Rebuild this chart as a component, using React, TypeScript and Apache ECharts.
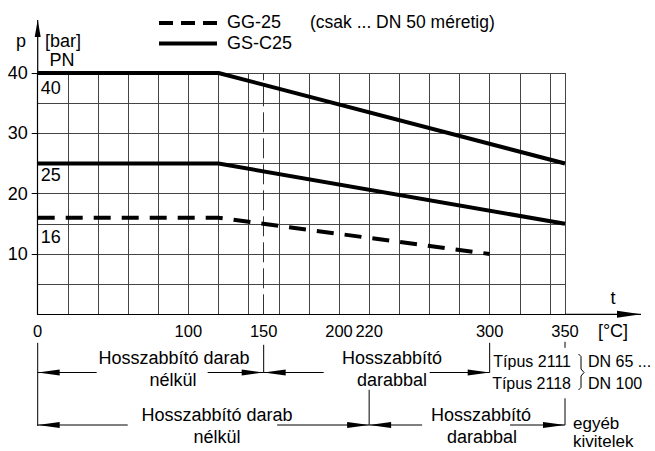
import React, { useEffect, useRef } from 'react';
import * as echarts from 'echarts';

const FONT = '"Liberation Sans", Arial, sans-serif';

// ---- data ----
const xLabelValues = [0, 100, 150, 200, 220, 300, 350];
const yLabelValues = [10, 20, 30, 40];
const gsc25PN40 = [[0, 40], [120, 40], [350, 25]];
const gsc25PN25 = [[0, 25], [120, 25], [350, 15]];
const gg25PN16 = [[0, 16], [120, 16], [300, 10]];
const pnLabels = ['40', '25', '16'];
const pnValues = [40, 25, 16];
const legendNames = ['GG-25', 'GS-C25'];
const legendNote = '(csak ... DN 50 méretig)';
const dashedTemp = 150;
const boundaryTemps = [0, 150, 220, 300, 350];
const rangeTexts = {
  noExt: ['Hosszabbító darab', 'nélkül'],
  withExt: ['Hosszabbító', 'darabbal'],
  types: ['Típus 2111', 'Típus 2118'],
  dn: ['DN 65 ...', 'DN 100'],
  other: ['egyéb', 'kivitelek'],
};

export default function App() {
  const ref = useRef<HTMLDivElement>(null);

  useEffect(() => {
    if (!ref.current) return;
    const chart = echarts.init(ref.current, undefined, { renderer: 'svg' });

    const option: any = {
      animation: false,
      backgroundColor: '#fff',
      grid: { left: 37.7, right: 90, top: 73, bottom: 136.7, containLabel: false },
      xAxis: {
        type: 'value',
        min: 0,
        max: 350,
        interval: 20,
        axisLine: { show: true, onZero: false, lineStyle: { color: '#000', width: 1.2 } },
        axisTick: { show: false },
        axisLabel: { customValues: xLabelValues, margin: 8, fontSize: 16.5, color: '#000', fontFamily: FONT },
        splitLine: { show: true, lineStyle: { color: '#444', width: 1 } },
      },
      yAxis: [
        {
          type: 'value',
          min: 0,
          max: 40,
          interval: 5,
          position: 'left',
          axisLine: { show: true, onZero: false, lineStyle: { color: '#000', width: 1.2 } },
          axisTick: { show: false },
          axisLabel: { show: false },
          splitLine: { show: true, lineStyle: { color: '#444', width: 1 } },
        },
        {
          type: 'value',
          min: 0,
          max: 40,
          interval: 10,
          position: 'left',
          axisLine: { show: false },
          axisTick: { show: true, customValues: yLabelValues, length: 6, lineStyle: { color: '#000', width: 1 } },
          axisLabel: { customValues: yLabelValues, margin: 10, fontSize: 18, color: '#000', fontFamily: FONT },
          splitLine: { show: false },
        },
      ],
      series: [
        {
          name: legendNames[1], type: 'line', data: gsc25PN40, symbol: 'none', silent: true,
          lineStyle: { color: '#000', width: 4 }, z: 5,
        },
        {
          name: legendNames[1], type: 'line', data: gsc25PN25, symbol: 'none', silent: true,
          lineStyle: { color: '#000', width: 4 }, z: 5,
        },
        {
          name: legendNames[0], type: 'line', data: gg25PN16, symbol: 'none', silent: true,
          lineStyle: { color: '#000', width: 4, type: [17, 11] }, z: 5,
          markLine: {
            silent: true,
            symbol: ['none', 'none'],
            label: { show: false },
            lineStyle: { color: '#333', width: 1, type: [20, 6] },
            data: [{ xAxis: dashedTemp }],
          },
        },
      ],
    };
    chart.setOption(option);

    const X = (v: number) => chart.convertToPixel({ xAxisIndex: 0 }, v) as number;
    const Y = (v: number) => chart.convertToPixel({ yAxisIndex: 0 }, v) as number;

    const [t0, t150, t220, t300, t350] = boundaryTemps.map(X);
    const yTop = Y(40);
    const yBot = Y(0);

    const g: any[] = [];
    const line = (x1: number, y1: number, x2: number, y2: number, w = 1, dash?: number[]) =>
      g.push({
        type: 'line', silent: true, z: 100,
        shape: { x1, y1, x2, y2 },
        style: { stroke: '#000', lineWidth: w, lineDash: dash },
      });
    const headH = (tip: number, y: number, dir: number, len = 22, half = 3) =>
      g.push({
        type: 'polygon', silent: true, z: 100,
        shape: { points: [[tip, y], [tip - dir * len, y - half], [tip - dir * len, y + half]] },
        style: { fill: '#000' },
      });
    const arrow = (from: number, to: number, y: number) => {
      line(from, y, to, y, 1);
      headH(to, y, to > from ? 1 : -1);
    };
    const text = (x: number, y: number, s: string, align = 'center', size = 18) =>
      g.push({
        type: 'text', silent: true, z: 100, x, y,
        style: { text: s, align, verticalAlign: 'middle', fontSize: size, fontFamily: FONT, fill: '#000' },
      });

    // axis extensions with arrows
    line(t350, yBot, 641, yBot, 1.2);
    headH(641, yBot, 1, 24, 3.5);
    line(t0, yTop, t0, 20, 1.2);
    g.push({
      type: 'polygon', silent: true, z: 100,
      shape: { points: [[t0, 20], [t0 - 3, 37], [t0 + 3, 37]] },
      style: { fill: '#000' },
    });

    // axis titles
    text(21, 41, 'p');
    text(45, 41, '[bar]', 'left');
    text(62, 60, 'PN');
    text(613, 298, 't');
    text(613, yBot + 17, '[°C]');

    // legend
    line(159, 23, 217, 23, 4, [14, 8]);
    text(227, 22, legendNames[0], 'left');
    text(310, 22, legendNote, 'left', 17.5);
    line(159, 43.5, 217, 43.5, 4);
    text(227, 43, legendNames[1], 'left');

    // PN labels under lines
    const pnOffsets = [15, 12, 19];
    pnValues.forEach((v, i) => text(t0 + 13, Y(v) + pnOffsets[i], pnLabels[i]));

    // lower annotation area
    const r1 = yBot + 58.2;
    const r2 = yBot + 110.7;
    line(t0, yBot + 28.5, t0, r2 + 1);
    line(t150, yBot + 30.5, t150, r1);
    line(t300, yBot + 28.5, t300, r1);
    line(t220, yBot + 75.5, t220, r2);
    line(t350, yBot + 27.5, t350, yBot + 33.5);
    line(t350, yBot + 84, t350, r2);

    arrow(t0 + 59, t0, r1);
    arrow(t150 - 56, t150, r1);
    arrow(t150 + 60, t150, r1);
    arrow(t300 - 60, t300, r1);

    arrow(t0 + 90, t0, r2);
    arrow(t220 - 92, t220, r2);
    arrow(t220 + 53, t220, r2);
    arrow(t350 - 55, t350, r2);

    text(174, r1 - 14.5, rangeTexts.noExt[0]);
    text(173, r1 + 7.5, rangeTexts.noExt[1]);
    text(392, r1 - 14.5, rangeTexts.withExt[0]);
    text(392, r1 + 7.5, rangeTexts.withExt[1]);
    text(217, r2 - 10, rangeTexts.noExt[0]);
    text(217, r2 + 12, rangeTexts.noExt[1]);
    text(481, r2 - 10, rangeTexts.withExt[0]);
    text(482, r2 + 12, rangeTexts.withExt[1]);

    text(571, r1 - 11.5, rangeTexts.types[0], 'right', 16);
    text(571, r1 + 10.5, rangeTexts.types[1], 'right', 16);
    g.push({
      type: 'polyline', silent: true, z: 100,
      shape: { points: [[578.5, r1 - 18.5], [581, r1 - 16], [581, r1 - 3.5], [584, r1], [581, r1 + 3.5], [581, r1 + 15], [578.5, r1 + 17.5]] },
      style: { stroke: '#000', lineWidth: 1, fill: null },
    });
    text(588, r1 - 11.5, rangeTexts.dn[0], 'left', 16);
    text(588, r1 + 10.5, rangeTexts.dn[1], 'left', 16);
    text(573, r2 - 2, rangeTexts.other[0], 'left', 17);
    text(573, r2 + 16, rangeTexts.other[1], 'left', 17);

    chart.setOption({ graphic: g });

    return () => chart.dispose();
  }, []);

  return (
    <div
      ref={ref}
      style={{ position: 'fixed', left: 0, top: 0, width: 655, height: 451, background: '#fff' }}
    />
  );
}
